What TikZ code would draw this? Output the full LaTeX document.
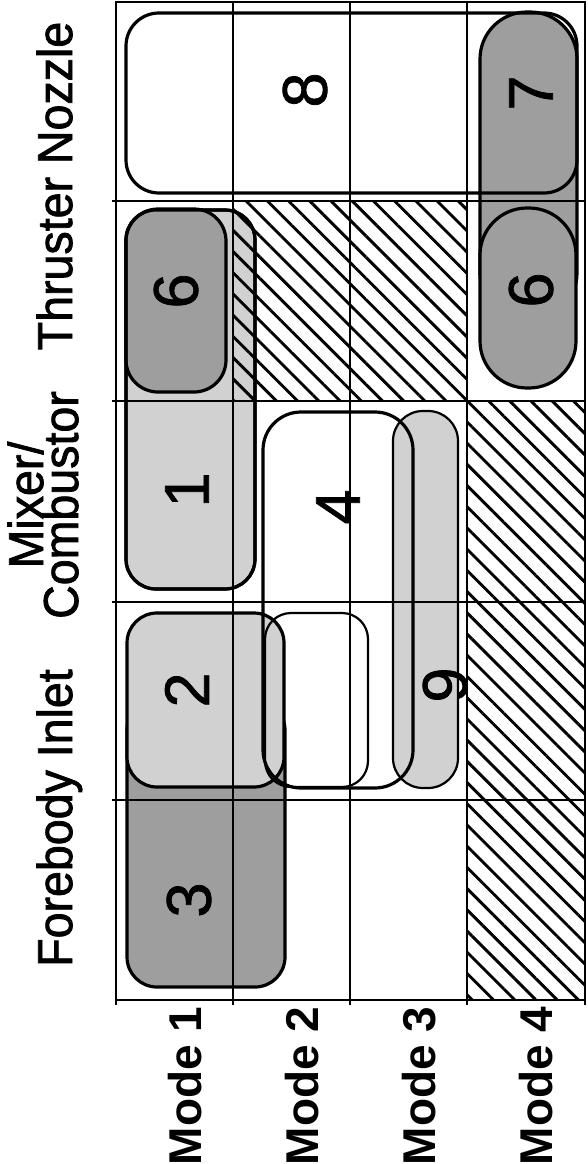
\documentclass[tikz,border=0pt]{standalone}
\usepackage{fontspec}
\setmainfont{Liberation Sans}
\newfontfamily\medfont{Liberation Sans}[BoldFont=Liberation Sans, BoldFeatures={FakeBold=1.6}]
\newfontfamily\numfont{Liberation Sans}[BoldFont=Liberation Sans, BoldFeatures={FakeBold=1.2}]
\usetikzlibrary{patterns.meta}
\definecolor{lightstip}{gray}{0.82}
\definecolor{darkstip}{gray}{0.62}
\tikzset{
  shapeline/.style={line width=3.2pt},
  thinline/.style={line width=2.2pt},
  gridline/.style={line width=2.4pt},
  hatchfill/.style={pattern={Lines[angle=-45,distance=15pt,line width=2.9pt]}},
  numlabel/.style={rotate=90, inner sep=0pt, font=\numfont\bfseries\fontsize{63}{63}\selectfont},
  headlabel/.style={rotate=90, inner sep=0pt, anchor=base, font=\medfont\bfseries\fontsize{49}{49}\selectfont},
  modelabel/.style={rotate=90, inner sep=0pt, anchor=base, font=\fontsize{46}{46}\selectfont\bfseries},
}
\newcommand{\hd}[1]{\scalebox{0.95}[1]{#1}}
\begin{document}
\begin{tikzpicture}[x=1pt,y=-1pt]
\useasboundingbox (0,0) rectangle (588,1164);
% --- shape 7 (under 8 outline and 6)
\fill[darkstip, rounded corners=47pt] (480,12) rectangle (577,320);
% --- shape 8 outline
\draw[shapeline, rounded corners=33pt] (126,13) rectangle (577,193);
\draw[shapeline, rounded corners=47pt] (480,12) rectangle (577,320);
% --- shape 6 (nozzle side)
\filldraw[shapeline, fill=darkstip, rounded corners=47pt] (480,208) rectangle (576,388);
% --- shape 1
\filldraw[shapeline, fill=lightstip, rounded corners=30pt] (126,210) rectangle (255,589);
% --- shape 6 (forebody side)
\filldraw[shapeline, fill=darkstip, rounded corners=32pt] (126,209) rectangle (226,392);
% --- shape 3
\filldraw[shapeline, fill=darkstip, rounded corners=30pt] (127,700) rectangle (285,987);
% --- shape 2 fill
\fill[lightstip, rounded corners=30pt] (127,613) rectangle (284,787);
% --- shape 9 fill
\fill[lightstip, rounded corners=30pt] (393,411) rectangle (458,788);
% --- hatched cells
\fill[hatchfill] (233,202) rectangle (467,401);
\fill[hatchfill] (467,401) rectangle (585,1000);
% --- grid
\foreach \gx in {233,350,467} \draw[gridline] (\gx,2) -- (\gx,1005);
\foreach \gy in {201,401,602,800} \draw[gridline] (112,\gy) -- (585,\gy);
\draw[gridline] (116,1000) -- (116,1005);
\draw[gridline] (585,1000) -- (585,1005);
\draw[line width=2.8pt] (116,2) rectangle (585,1000);
% --- outlines on top
\draw[shapeline, rounded corners=30pt] (126,210) rectangle (255,589);
\draw[shapeline, rounded corners=30pt] (127,613) rectangle (284,787);
\draw[shapeline, rounded corners=38pt] (263,412) rectangle (413,788);
\draw[thinline, rounded corners=26pt] (265,613) rectangle (368,787);
\draw[thinline, rounded corners=30pt] (393,411) rectangle (458,788);
% --- number labels
\node[numlabel] (n8) at (305,90) {8};
\node[numlabel] (n7) at (531,93) {7};
\node[numlabel] (n6a) at (176,291) {6};
\node[numlabel] (n6b) at (531,290) {6};
\node[numlabel] (n1) at (187,490) {1};
\node[numlabel] (n4) at (338,507) {4};
\node[numlabel] (n2) at (187,690) {2};
\node[numlabel] (n9) at (445,685) {9};
\node[numlabel] (n3) at (189,900) {3};
% --- column headers
\node[headlabel] (hfi) at (72,818) {\hd{Forebody Inlet}};
\node[headlabel] (hmx) at (43,505) {\hd{Mixer/}};
\node[headlabel] (hcb) at (78,505) {\hd{Combustor}};
\node[headlabel] (htn) at (72,186) {\hd{Thruster Nozzle}};
% --- mode labels
\node[modelabel] (m1) at (201,1086) {Mode 1};
\node[modelabel] (m2) at (318,1086) {Mode 2};
\node[modelabel] (m3) at (435,1086) {Mode 3};
\node[modelabel] (m4) at (552,1086) {Mode 4};
\end{tikzpicture}
\end{document}
